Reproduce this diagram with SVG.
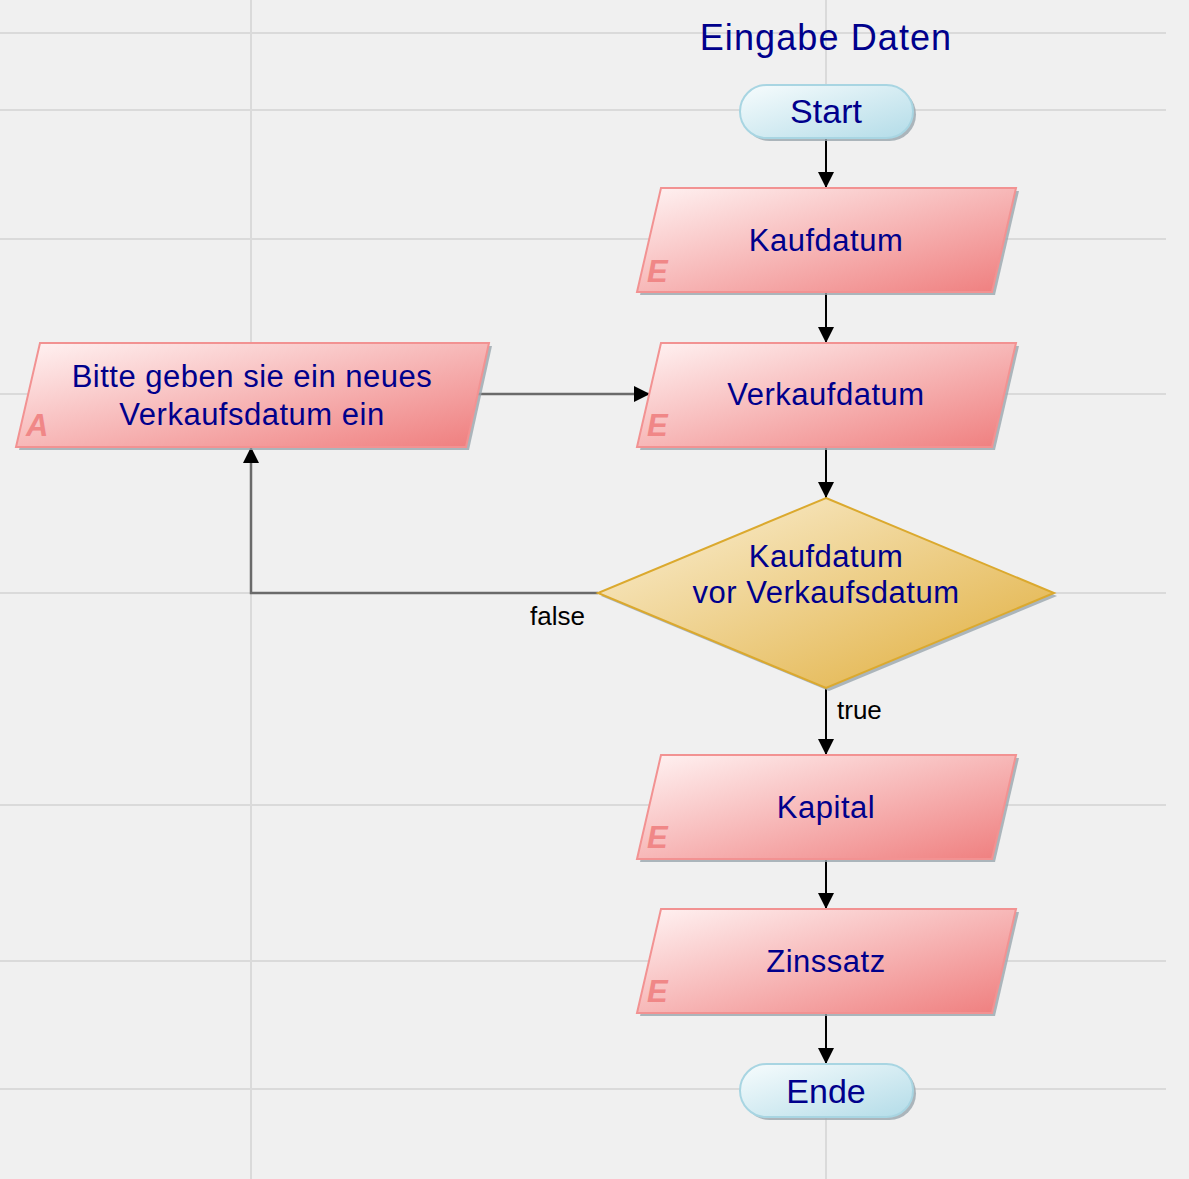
<svg xmlns="http://www.w3.org/2000/svg" width="1189" height="1179" viewBox="0 0 1189 1179">
<defs>
<linearGradient id="gRed" x1="0" y1="0" x2="1" y2="1">
<stop offset="0" stop-color="#fff3f3"/>
<stop offset="1" stop-color="#ef7d7d"/>
</linearGradient>
<linearGradient id="gBlue" x1="0" y1="0" x2="1" y2="1">
<stop offset="0" stop-color="#f7fcfd"/>
<stop offset="1" stop-color="#b3dce8"/>
</linearGradient>
<linearGradient id="gGold" x1="0" y1="0" x2="1" y2="1">
<stop offset="0" stop-color="#fbf1d8"/>
<stop offset="1" stop-color="#e0ad3a"/>
</linearGradient>
<marker id="arr" viewBox="0 0 16 16" refX="16" refY="8" markerWidth="16" markerHeight="16" markerUnits="userSpaceOnUse" orient="auto">
<path d="M0,0 L16,8 L0,16 z" fill="#000"/>
</marker>
<style>
.grid{stroke:#dadada;stroke-width:2;fill:none}
.para{fill:url(#gRed);stroke:#f29292;stroke-width:2}
.pill{fill:url(#gBlue);stroke:#a8d5e2;stroke-width:2}
.dia{fill:url(#gGold);stroke:#dba92e;stroke-width:2}
.shadow{fill:#9aa6ae;opacity:0.8}
.t{font-family:"Liberation Sans",Arial,sans-serif;fill:#00008c;text-anchor:middle}
.n{font-size:31px;letter-spacing:0.5px}
.term{font-size:34px}
.title{font-size:36px;letter-spacing:1.1px}
.mk{font-family:"Liberation Sans",Arial,sans-serif;font-size:31px;font-weight:bold;font-style:italic;fill:#f08787}
.lbl{font-family:"Liberation Sans",Arial,sans-serif;font-size:26px;fill:#000}
.c{stroke:#000;stroke-width:2;fill:none}
.cg{stroke:#6a6a6a;stroke-width:2.5;fill:none}
</style>
</defs>
<rect x="0" y="0" width="1189" height="1179" fill="#f0f0f0"/>
<g id="grid">
<path class="grid" d="M0,33H1166 M0,110H1166 M0,239H1166 M0,394H1166 M0,593H1166 M0,805H1166 M0,961H1166 M0,1089H1166 M251,0V1179 M826,0V1179"/>
</g>
<g id="connectors">
<path class="c" d="M826,139V188" marker-end="url(#arr)"/>
<path class="c" d="M826,292V343" marker-end="url(#arr)"/>
<path class="c" d="M826,447V498" marker-end="url(#arr)"/>
<path class="c" d="M826,688V755" marker-end="url(#arr)"/>
<path class="c" d="M826,859V909" marker-end="url(#arr)"/>
<path class="c" d="M826,1013V1064" marker-end="url(#arr)"/>
<path class="cg" d="M598,593H251V447" marker-end="url(#arr)"/>
<path class="cg" d="M478,394H650" marker-end="url(#arr)"/>
<text class="lbl" x="530" y="625">false</text>
<text class="lbl" x="837" y="719">true</text>
</g>
<g id="title">
<text class="t title" x="826" y="50">Eingabe Daten</text>
</g>
<g id="start">
<rect class="shadow" x="743" y="88" width="173" height="53" rx="26.5"/>
<rect class="pill" x="740" y="85" width="173" height="53" rx="26.5"/>
<text class="t term" x="826" y="123">Start</text>
</g>
<g id="kaufdatum">
<polygon class="shadow" points="664,191 1019,191 995,295 640,295"/>
<polygon class="para" points="661,188 1016,188 992,292 637,292"/>
<text class="t n" x="826" y="251">Kaufdatum</text>
<text class="mk" x="647" y="282">E</text>
</g>
<g id="verkaufdatum">
<polygon class="shadow" points="664,346 1019,346 995,450 640,450"/>
<polygon class="para" points="661,343 1016,343 992,447 637,447"/>
<text class="t n" x="826" y="405">Verkaufdatum</text>
<text class="mk" x="647" y="436">E</text>
</g>
<g id="hinweis">
<polygon class="shadow" points="43,346 492,346 469,450 19,450"/>
<polygon class="para" points="40,343 489,343 466,447 16,447"/>
<text class="t n" x="252" y="387">Bitte geben sie ein neues</text>
<text class="t n" x="252" y="425">Verkaufsdatum ein</text>
<text class="mk" x="26" y="436">A</text>
</g>
<g id="entscheidung">
<polygon class="shadow" points="829,501 1057,596 829,691 601,596"/>
<polygon class="dia" points="826,498 1054,593 826,688 598,593"/>
<text class="t n" x="826" y="567">Kaufdatum</text>
<text class="t n" x="826" y="603">vor Verkaufsdatum</text>
</g>
<g id="kapital">
<polygon class="shadow" points="664,758 1019,758 995,862 640,862"/>
<polygon class="para" points="661,755 1016,755 992,859 637,859"/>
<text class="t n" x="826" y="818">Kapital</text>
<text class="mk" x="647" y="848">E</text>
</g>
<g id="zinssatz">
<polygon class="shadow" points="664,912 1019,912 995,1016 640,1016"/>
<polygon class="para" points="661,909 1016,909 992,1013 637,1013"/>
<text class="t n" x="826" y="972">Zinssatz</text>
<text class="mk" x="647" y="1002">E</text>
</g>
<g id="ende">
<rect class="shadow" x="743" y="1067" width="173" height="53" rx="26.5"/>
<rect class="pill" x="740" y="1064" width="173" height="53" rx="26.5"/>
<text class="t term" x="826" y="1103">Ende</text>
</g>
</svg>
